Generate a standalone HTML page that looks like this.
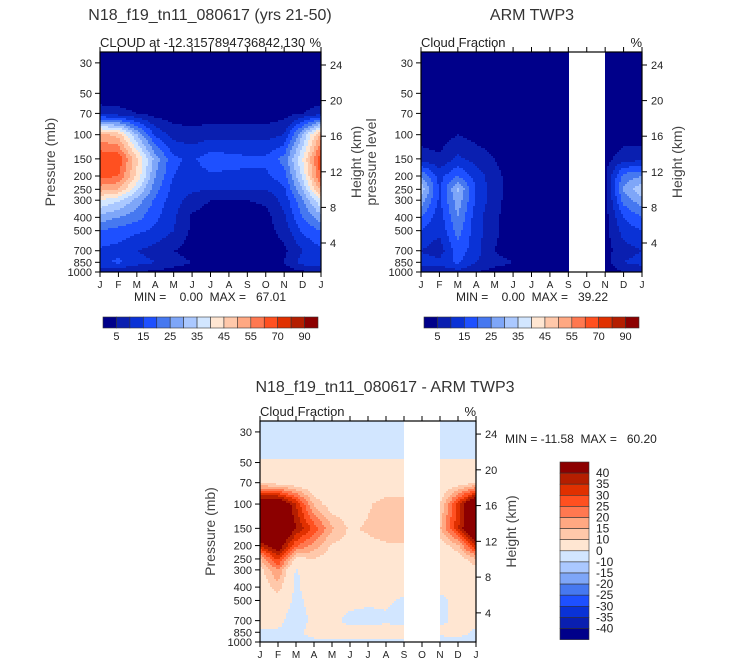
<!DOCTYPE html>
<html><head><meta charset="utf-8"><style>
html,body{margin:0;padding:0;background:#fff;}
svg{display:block;font-family:"Liberation Sans",sans-serif;}
text{white-space:pre;}
</style></head><body>
<svg id="chart" width="733" height="665" viewBox="0 0 733 665"></svg>
<script>
const months = ["J","F","M","A","M","J","J","A","S","O","N","D","J"];
const pLevels = [30,50,70,100,150,200,250,300,400,500,700,850,1000];
const pTickLabels = ["30","50","70","100","150","200","250","300","400","500","700","850","1000"];
const kmTicks = [4,8,12,16,20,24];
const absLevels = [5,10,15,20,25,30,35,40,45,50,55,60,70,80,90];
const absLabels = ["5","15","25","35","45","55","70","90"];
const diffLevels = [-40,-35,-30,-25,-20,-15,-10,0,10,15,20,25,30,35,40];
const diffLabels = ["40","35","30","25","20","15","10","0","-10","-15","-20","-25","-30","-35","-40"];
const palette = ["#00008a","#0a1fb0","#0a32d6","#1e50ff","#4678f0","#7ea6f8","#aac8ff","#d2e6ff","#ffe6d2","#ffc8aa","#ffa882","#ff7850","#ff5020","#e03000","#b41e00","#8c0000"];
// model cloud fraction (rows = pressure levels, cols = months J..J)
const modelCloud = [
 [1,1,1,1,1,1,1,1,1,1,1,1,1],
 [1,1,1,1,1,1,1,1,1,1,1,1,1],
 [8,7,5,3,2,2,2,2,2,2,3,5,8],
 [52,48,30,14,8,7,8,8,8,8,10,30,52],
 [64,64,46,28,16,14,18,17,16,16,22,40,64],
 [62,60,44,25,15,13,14,14,14,14,18,36,62],
 [52,50,36,22,13,11,10,10,10,10,14,30,52],
 [40,36,28,19,12,8,5,5,5,6,12,24,40],
 [28,25,22,16,11,4,2,2,2,3,9,20,28],
 [20,18,16,14,10,4,2,2,2,3,7,16,20],
 [14,13,10,8,5,3,1,1,1,1,4,10,14],
 [14,16,12,10,7,5,3,2,2,2,5,12,14],
 [6,6,5,4,3,2,2,2,2,2,2,4,6]
];
// ARM TWP3 observed cloud fraction (Sep-Nov missing)
const armCloud = [
 [1,1,1,1,1,1,1,1,1,1,1,1,1],
 [1,1,1,1,1,1,1,1,1,1,1,1,1],
 [1,1,1,1,1,1,1,1,1,1,1,1,1],
 [2,2,5,3,2,1,1,1,1,1,1,2,2],
 [8,6,11,8,5,1,1,1,1,1,3,8,8],
 [25,13,20,13,7,2,1,1,1,1,4,22,25],
 [34,14,31,14,7,2,1,1,1,1,4,26,34],
 [28,14,28,14,7,2,1,1,1,1,3,22,28],
 [20,12,25,12,6,2,1,1,1,1,3,15,20],
 [15,11,22,12,6,2,1,1,1,1,3,12,15],
 [10,7,18,12,5,2,1,1,1,1,3,8,10],
 [12,12,16,10,7,5,1,1,1,1,3,10,12],
 [6,6,8,5,3,2,1,1,1,1,2,5,6]
];
// difference model - ARM
const diffCloud = [
 [-2,-2,-2,-2,-2,-2,-2,-2,-2,-2,-2,-2,-2],
 [0.2,0.2,0.2,0.2,0.2,0.2,0.2,0.2,0.2,0.2,0.2,0.2,0.2],
 [9,7,5,3,3,3,3,3,3,3,3,6,9],
 [52,52,35,14,6,5,9,13,13,12,10,32,55],
 [56,56,40,28,16,9,11,14,14,12,14,34,56],
 [36,46,26,18,9,8,8,9,9,8,6,14,36],
 [14,32,8,10,6,5,5,5,5,4,3,6,14],
 [8,20,-1,7,5,4,4,3,3,2,2,3,8],
 [5,13,-2,6,4,3,3,3,2,1,1,1,5],
 [3,6,-2,3,3,2,1,1,-1,-1,-1,1,3],
 [2,2,-4,2,2,-2,-2,-1,-2,-1,-1,1,2],
 [-1,-1,-2,3,3,3,3,3,3,1,1,2,-1],
 [-2,-2,-2,-2,-2,-2,-2,-2,-2,-2,-2,-2,-2]
];

const NS="http://www.w3.org/2000/svg";
const svg=document.getElementById('chart');
function mk(tag,attrs,parent){const e=document.createElementNS(NS,tag);for(const k in attrs)e.setAttribute(k,attrs[k]);(parent||svg).appendChild(e);return e;}
function txt(s,x,y,size,anchor,parent,extra){const t=mk('text',Object.assign({x:x,y:y,'font-size':size,'text-anchor':anchor||'start',fill:'#222'},extra||{}),parent);t.textContent=s;return t;}
const lnTop=Math.log(25), lnBot=Math.log(1000);
function colorFor(v,levels){let i=0;while(i<levels.length&&v>=levels[i])i++;return palette[i];}

function panel(o){
 const g=mk('g',{});
 
 
 const {x0,y0,w,h,data,levels}=o;
 const yOfP=p=>y0+(Math.log(p)-lnTop)/(lnBot-lnTop)*h;
 const xOfM=m=>x0+m/12*w;
 const lnP=pLevels.map(p=>Math.log(p));
 const fill=mk('g',{'shape-rendering':'crispEdges'},g);
 
 
 const step=2;
 for(let py=0;py<h;py+=step){
  const lp=lnTop+(py+step/2)/h*(lnBot-lnTop);
  let r=0; while(r<lnP.length-2&&lp>lnP[r+1])r++;
  let ty=(lp-lnP[r])/(lnP[r+1]-lnP[r]); ty=Math.max(0,Math.min(1,ty));
  let runStart=0, runCol=null;
  const flush=(end)=>{ if(runCol&&runCol!=='none'){mk('rect',{x:x0+runStart,y:y0+py,width:end-runStart,height:Math.min(step,h-py),fill:runCol},fill);} };
  for(let px=0;px<w;px+=step){
   const m=(px+step/2)/w*12;
   let col;
   if(o.blank&&m>o.blank[0]&&m<o.blank[1]) col='none';
   else{
    const c=Math.min(11,Math.floor(m)); const tx=m-c;
    const v=(1-ty)*((1-tx)*data[r][c]+tx*data[r][c+1])+ty*((1-tx)*data[r+1][c]+tx*data[r+1][c+1]);
    col=colorFor(v,levels);
   }
   if(col!==runCol){flush(px);runStart=px;runCol=col;}
  }
  flush(w);
 }
 mk('rect',{x:x0,y:y0,width:w,height:h,fill:'none',stroke:'#000','stroke-width':1.2},g);
 months.forEach((mn,i)=>{
  const x=xOfM(i);
  mk('line',{x1:x,y1:y0+h,x2:x,y2:y0+h+5,stroke:'#000'},g);
  mk('line',{x1:x,y1:y0,x2:x,y2:y0-5,stroke:'#000'},g);
  const t=txt(mn,x,y0+h+16,10,'middle',g);
  
  
 });
 pLevels.forEach((p,i)=>{
  const y=yOfP(p);
  mk('line',{x1:x0,y1:y,x2:x0-5,y2:y,stroke:'#000'},g);
  const t=txt(pTickLabels[i],x0-8,y+4,11,'end',g);
  
  
 });
 kmTicks.forEach(k=>{
  const y=y0+h-(k*8.9-6.6)*h/220;
  mk('line',{x1:x0+w,y1:y,x2:x0+w+5,y2:y,stroke:'#000'},g);
  const t=txt(String(k),x0+w+9,y+4,11,'start',g);
  
  
 });
 const yl=txt(o.ylabel,0,0,14,'middle',g,{fill:'#444',transform:`translate(${x0-45},${y0+h/2}) rotate(-90)`});
 
 
 const hl=txt('Height (km)',0,0,14,'middle',g,{fill:'#444',transform:`translate(${x0+w+40},${y0+h/2}) rotate(-90)`});
 
 
 const tt=txt(o.title,o.titleX,o.titleY,16,'middle',g,{fill:'#333'});
 
 
 const st=txt(o.sub,x0,y0-5,13,'start',g);
 
 
 const pc=txt('%',x0+w,y0-5,13,'end',g);
 
 
 return g;
}
function hbar(x0,y0,w,h,labels,name){
 const g=mk('g',{});
 
 
 const bw=w/16;
 palette.forEach((c,i)=>{mk('rect',{x:x0+i*bw,y:y0,width:bw,height:h,fill:c,stroke:'#333','stroke-width':0.6},g);});
 labels.forEach((l,j)=>{txt(l,x0+(2*j+1)*bw,y0+h+12,11,'middle',g);});
}

panel({name:'model-panel',x0:100,y0:52,w:221,h:220,data:modelCloud,levels:absLevels,ylabel:'Pressure (mb)',
 title:'N18_f19_tn11_080617 (yrs 21-50)',titleX:210,titleY:20,sub:'CLOUD at -12.3157894736842,130'});
txt('MIN =    0.00  MAX =   67.01',210,301,12,'middle');
hbar(103,317,215,11,absLabels,'model-colorbar');

panel({name:'arm-panel',x0:421,y0:52,w:221,h:220,data:armCloud,levels:absLevels,blank:[8,10],ylabel:'pressure level',
 title:'ARM TWP3',titleX:532,titleY:20,sub:'Cloud Fraction'});
txt('MIN =    0.00  MAX =   39.22',532,301,12,'middle');
hbar(424,317,215,11,absLabels,'arm-colorbar');

panel({name:'difference-panel',x0:260,y0:421,w:216,h:221,data:diffCloud,levels:diffLevels,blank:[8,10],ylabel:'Pressure (mb)',
 title:'N18_f19_tn11_080617 - ARM TWP3',titleX:385,titleY:392,sub:'Cloud Fraction'});
txt('MIN = -11.58  MAX =   60.20',505,443,12,'start');
(function(){
 const g=mk('g',{});
 
 
 const x0=560,y0=462,w=29,bh=11.1;
 for(let i=0;i<16;i++){mk('rect',{x:x0,y:y0+i*bh,width:w,height:bh,fill:palette[15-i],stroke:'#333','stroke-width':0.6},g);}
 diffLabels.forEach((l,j)=>{txt(l,596,y0+(j+1)*bh+4,12,'start',g);});
})();
</script>
</body></html>
